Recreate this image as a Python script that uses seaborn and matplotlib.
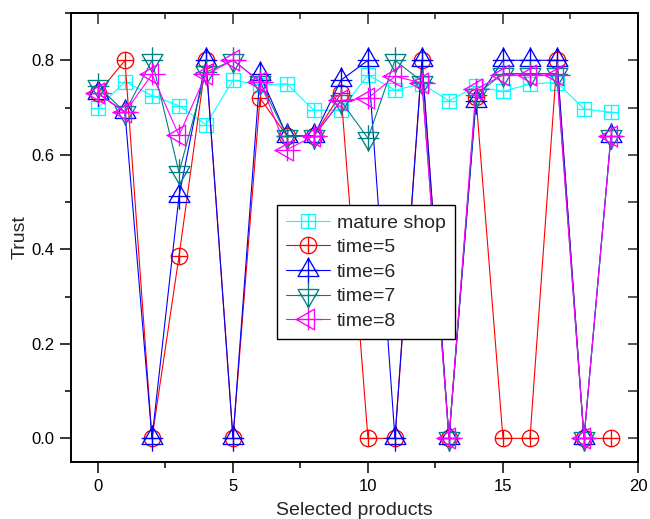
import matplotlib
matplotlib.use("Agg")
import matplotlib.pyplot as plt
import numpy as np
import pandas as pd
import seaborn as sns
from matplotlib.path import Path
from matplotlib.ticker import MultipleLocator, NullFormatter

# Trust values per selected product
products = list(range(20))
mature_shop = [0.699, 0.755, 0.725, 0.704, 0.664, 0.758, 0.748, 0.750, 0.694, 0.695,
               0.769, 0.737, 0.750, 0.714, 0.745, 0.734, 0.750, 0.753, 0.697, 0.690]
time5 = [0.73, 0.80, 0.0, 0.385, 0.80, 0.0, 0.72, 0.64, 0.64, 0.73,
         0.0, 0.0, 0.80, 0.0, 0.722, 0.0, 0.0, 0.80, 0.0, 0.0]
time6 = [0.73, 0.69, 0.0, 0.512, 0.80, 0.0, 0.77, 0.64, 0.64, 0.758,
         0.80, 0.0, 0.80, 0.0, 0.713, 0.80, 0.80, 0.80, 0.0, 0.64]
time7 = [0.745, 0.69, 0.80, 0.563, 0.775, 0.80, 0.755, 0.64, 0.64, 0.714,
         0.635, 0.80, 0.755, 0.0, 0.727, 0.772, 0.772, 0.772, 0.0, 0.64]
time8 = [0.73, 0.69, 0.77, 0.641, 0.77, 0.80, 0.755, 0.611, 0.64, 0.715,
         0.72, 0.766, 0.752, 0.0, 0.739, 0.769, 0.769, 0.769, 0.0, 0.64]

series_names = ["mature shop", "time=5", "time=6", "time=7", "time=8"]
series_values = [mature_shop, time5, time6, time7, time8]
series_colors = ["#00FFFF", "#FF0000", "#0000FF", "#008080", "#FF00FF"]

df = pd.DataFrame({"product": products})
for name, vals in zip(series_names, series_values):
    df[name] = vals

sns.set_style("ticks")
plt.rcParams["font.family"] = ["Liberation Sans", "DejaVu Sans"]

M, L, C = Path.MOVETO, Path.LINETO, Path.CLOSEPOLY


def crossed(outline, hx, vy):
    """Outline shape with a plus sign through its centre."""
    plus = Path([(-hx, 0), (hx, 0), (0, -vy), (0, vy)], [M, L, M, L])
    return Path.make_compound_path(outline, plus)


def polygon(pts):
    verts = list(pts) + [pts[0]]
    codes = [M] + [L] * (len(pts) - 1) + [C]
    return Path(verts, codes)


s3 = np.sqrt(3) / 2
square_plus = crossed(polygon([(-1, -1), (1, -1), (1, 1), (-1, 1)]), 1, 1)
circle_plus = crossed(Path.unit_circle(), 1, 1)
tri_up_plus = crossed(polygon([(0, 1), (-s3, -0.5), (s3, -0.5)]), 0.9, 1.1)
tri_down_plus = crossed(polygon([(0, -1), (s3, 0.5), (-s3, 0.5)]), 0.9, 1.1)
tri_left_plus = crossed(polygon([(-1, 0), (0.5, -s3), (0.5, s3)]), 1.1, 0.9)

series_markers = [square_plus, circle_plus, tri_up_plus, tri_down_plus, tri_left_plus]
marker_sizes = [10.4, 11.8, 19.0, 19.0, 19.0]

fig = plt.figure(figsize=(6.5, 5.19), dpi=100)
ax = fig.add_axes([0.1092, 0.1098, 0.8723, 0.8651])

for name, color, mk, ms in zip(series_names, series_colors, series_markers, marker_sizes):
    sns.lineplot(data=df, x="product", y=name, ax=ax, color=color, label=name,
                 linewidth=0.8, marker=mk, markersize=ms,
                 markerfacecolor="none", markeredgecolor=color,
                 markeredgewidth=0.95)

ax.set_xlim(-1, 20)
ax.set_ylim(-0.05, 0.9)
ax.set_xticks([0, 5, 10, 15, 20])
ax.set_yticks([0.0, 0.2, 0.4, 0.6, 0.8])
ax.set_yticklabels(["0.0", "0.2", "0.4", "0.6", "0.8"])
ax.xaxis.set_minor_locator(MultipleLocator(2.5))
ax.yaxis.set_minor_locator(MultipleLocator(0.1))
ax.tick_params(which="major", direction="out", length=8, width=1.1,
               labelsize=12, pad=4, color="black", labelcolor="black")
ax.tick_params(which="minor", direction="out", length=4, width=1.1, color="black")

for sp in ax.spines.values():
    sp.set_linewidth(1.4)
    sp.set_color("black")

# inward ticks on the top and right edges
top = ax.secondary_xaxis("top")
top.set_xticks([0, 5, 10, 15, 20])
top.xaxis.set_minor_locator(MultipleLocator(2.5))
top.xaxis.set_major_formatter(NullFormatter())
top.tick_params(which="major", direction="in", length=8, width=1.1)
top.tick_params(which="minor", direction="in", length=4, width=1.1)
top.spines["top"].set_linewidth(1.4)

right = ax.secondary_yaxis("right")
right.set_yticks([0.0, 0.2, 0.4, 0.6, 0.8])
right.yaxis.set_minor_locator(MultipleLocator(0.1))
right.yaxis.set_major_formatter(NullFormatter())
right.tick_params(which="major", direction="in", length=7, width=1.1)
right.tick_params(which="minor", direction="in", length=7, width=1.1)
right.spines["right"].set_linewidth(1.4)

ax.set_xlabel("Selected products", fontsize=14, labelpad=6)
ax.set_ylabel("Trust", fontsize=14, labelpad=2)

leg = ax.legend(loc="upper left", bbox_to_anchor=(0.363, 0.572), borderaxespad=0,
                fontsize=14, frameon=True, fancybox=False, framealpha=1,
                edgecolor="black", labelspacing=0.36, handlelength=2.3,
                handletextpad=0.35, borderpad=0.45)
leg.get_frame().set_linewidth(1.0)

fig.savefig("out.png", dpi=100)
